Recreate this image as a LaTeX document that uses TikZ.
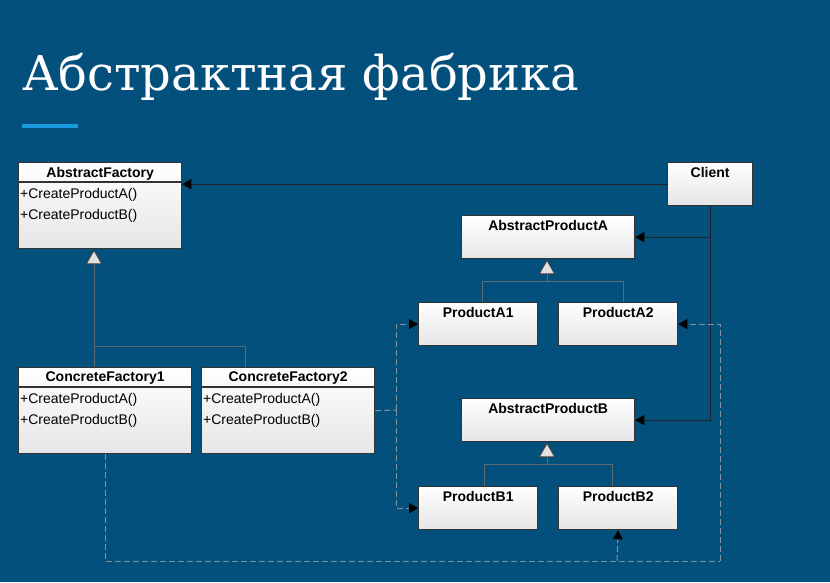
\documentclass[tikz,border=0pt]{standalone}
\usepackage{fontspec}
\setmainfont{Liberation Sans}
\newfontfamily\titlefont{DejaVu Serif}
\usetikzlibrary{arrows.meta,calc}
\definecolor{Slide}{HTML}{03507C}
\definecolor{Accent}{HTML}{1B9AE0}
\definecolor{Edge}{HTML}{333333}
\definecolor{Wire}{HTML}{5F6B73}
\definecolor{Dash}{HTML}{8592A0}
\definecolor{Ink}{HTML}{1C2329}

\begin{document}
\begin{tikzpicture}[x=1pt,y=-1pt,
    cls/.style={draw=Edge,line width=1.3pt,top color=white,bottom color=black!10,
      anchor=north west,inner sep=0pt,minimum height=43pt},
    hdr/.style={anchor=north,inner sep=0pt,yshift=-5pt,font=\fontsize{14}{16}\selectfont\bfseries,text=black},
    ops/.style={anchor=north west,inner sep=1pt,align=left,font=\fontsize{14}{21}\selectfont,text=black},
    gen/.style={-{Triangle[open,length=15pt,width=17pt,color=black!75,fill=black!12,line width=1pt]},
      line width=1pt,Wire},
    tree/.style={line width=1pt,Wire},
    assoc/.style={-{Triangle[length=9pt,width=10pt,black]},line width=1pt,Ink},
    dep/.style={-{Triangle[length=9pt,width=10pt,black]},line width=1pt,Dash,dash pattern=on 6pt off 3pt},
    deq/.style={line width=1pt,Dash,dash pattern=on 6pt off 3pt}
  ]
    \fill[Slide] (0,0) rectangle (830,582);
    \useasboundingbox (0,0) rectangle (830,582);
    \node[anchor=base west,inner sep=0pt,text=white,
      font=\titlefont\fontsize{48}{58}\selectfont] (title) at (22,90) {Абстрактная фабрика};
    \draw[Accent,line width=4pt] (22,125.5) -- (78,125.5);

    % factories
    \foreach \n/\x/\w/\y/\t in {af/18/163/162/AbstractFactory,cfa/18/173/367/ConcreteFactory1,
      cfb/201/173/367/ConcreteFactory2}{
      \node[cls,minimum width=\w pt,minimum height=86pt] (\n) at (\x,\y) {};
      \node[hdr] (\n-name) at (\n.north) {\t};
      \draw[Edge,line width=1.3pt] ($(\n.north west)+(0,20)$) -- ($(\n.north east)+(0,20)$);
      \node[ops] (\n-ops) at ($(\n.north west)+(1,25)$) {+CreateProductA()\\+CreateProductB()};
    }
    % client and products
    \foreach \n/\x/\w/\y/\t in {client/667/85/162/Client,apa/461/173/215/AbstractProductA,
      pa1/418/119/302/ProductA1,pa2/558/119/302/ProductA2,apb/461/173/398/AbstractProductB,
      pb1/418/119/486/ProductB1,pb2/558/119/486/ProductB2}{
      \node[cls,minimum width=\w pt] (\n) at (\x,\y) {};
      \node[hdr] (\n-name) at (\n.north) {\t};
    }

    % inheritance
    \coordinate (jf) at (94,346);
    \coordinate (jf2) at (245,346);
    \draw[gen] (jf) -- (af.south -| jf);
    \draw[tree] (cfa.north -| jf) -- (jf) -- (jf2) -- (cfb.north -| jf2);
    \coordinate (ja) at (547,281);
    \coordinate (ja1) at (482,281);
    \coordinate (ja2) at (623,281);
    \draw[gen] (ja) -- (apa.south -| ja);
    \draw[tree] (pa1.north -| ja1) -- (ja1) -- (ja2) -- (pa2.north -| ja2);
    \coordinate (jb) at (547,464);
    \coordinate (jb1) at (484,464);
    \coordinate (jb2) at (612,464);
    \draw[gen] (jb) -- (apb.south -| jb);
    \draw[tree] (pb1.north -| jb1) -- (jb1) -- (jb2) -- (pb2.north -| jb2);

    % client uses
    \draw[assoc] (client.west) -- (client.west -| af.east);
    \draw[assoc] (client.south) |- (apa.east);
    \draw[assoc] (client.south) |- (apb.east);

    % creates
    \coordinate (jd) at (396,410);
    \coordinate (je) at (617,561);
    \coordinate (je2) at (720,561);
    \draw[deq] (cfb.east) -- (jd);
    \draw[dep] (jd) |- (pa1.west);
    \draw[dep] (jd) |- (pb1.west);
    \draw[deq] (cfa.south) |- (je) -- (je2);
    \draw[dep] (je) -- (pb2.south);
    \draw[dep] (je2) |- (pa2.east);
  \end{tikzpicture}
\end{document}
